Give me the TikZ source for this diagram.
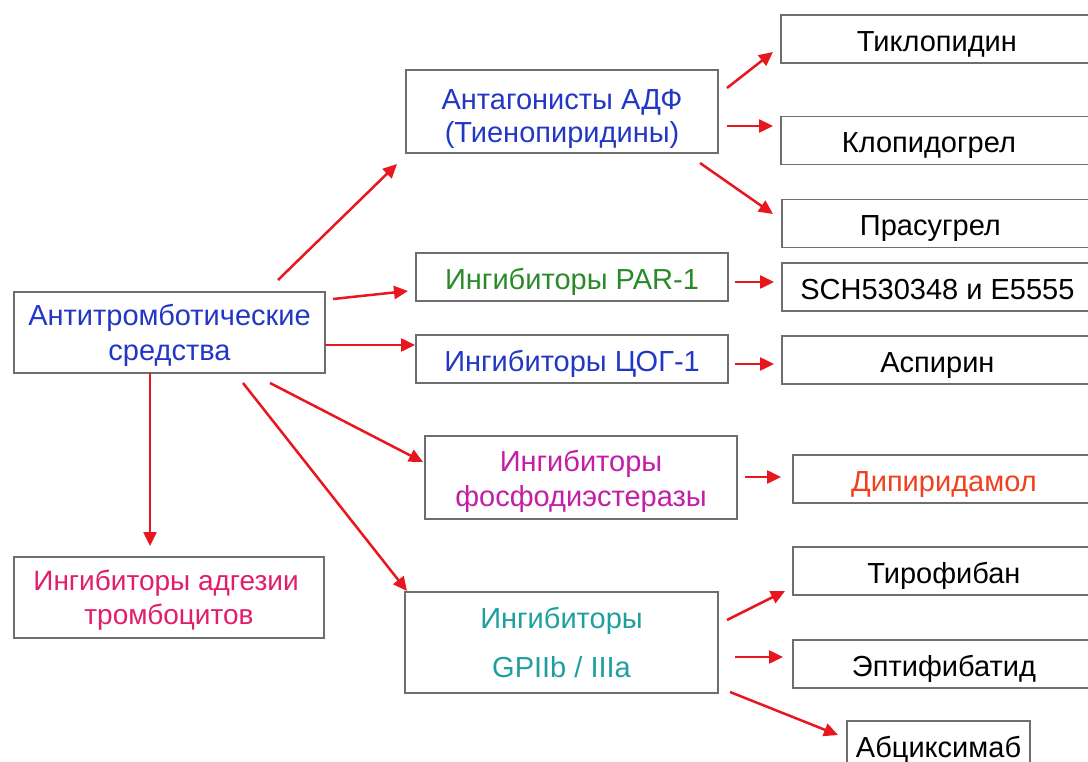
\documentclass[tikz,border=0pt]{standalone}
\usepackage{fontspec}
\setmainfont{Liberation Sans}
\usetikzlibrary{arrows.meta}
\definecolor{bordergray}{HTML}{6E6E6E}
\definecolor{arrred}{HTML}{E8161E}
\definecolor{tblue}{HTML}{2238C4}
\definecolor{tpink}{HTML}{E21E6A}
\definecolor{tgreen}{HTML}{2A8A2A}
\definecolor{tmagenta}{HTML}{C21FA6}
\definecolor{tteal}{HTML}{1FA0A0}
\definecolor{torange}{HTML}{F0401E}
\begin{document}
\begin{tikzpicture}[x=1pt,y=-1pt,
  box/.style={draw=bordergray, line width=1.8pt, inner sep=0pt, align=center,
    font=\fontsize{29}{35}\selectfont, text depth=0pt},
  one/.style={box, text height=25pt},
  rbox/.style={one, minimum height=48pt, anchor=west},
  arr/.style={draw=arrred, line width=2.5pt, -{Triangle[length=14pt,width=13pt]}}]
\useasboundingbox (0,0) rectangle (1088,762);
\fill[white] (0,0) rectangle (1088,762);
\clip (0,0) rectangle (1088,762);

% left column
\node[box, minimum width=311pt, minimum height=81pt, text=tblue, text height=56pt] (main) at (169.5,332.5)
  {Антитромботические\\средства};
\node[box, minimum width=310pt, minimum height=81pt, text=tpink, text height=54pt,
  font=\fontsize{28}{34}\selectfont] (adh) at (169,597.5)
  {Ингибиторы адгезии\hspace*{6pt}\\тромбоцитов};

% middle column
\node[box, minimum width=312pt, minimum height=83pt, text=tblue, text height=62pt,
  font=\fontsize{29}{33}\selectfont] (adf) at (562,111.5)
  {Антагонисты АДФ\\(Тиенопиридины)};
\node[one, minimum width=312pt, minimum height=48pt, text=tgreen] (par) at (572,277)
  {Ингибиторы PAR-1};
\node[one, minimum width=312pt, minimum height=48pt, text=tblue] (cog) at (572,359)
  {Ингибиторы ЦОГ-1};
\node[box, minimum width=312pt, minimum height=83pt, text=tmagenta, text height=58pt] (pde) at (581,477.5)
  {Ингибиторы\\фосфодиэстеразы};
\node[box, minimum width=313pt, minimum height=101pt, text=tteal, text height=69pt,
  font=\fontsize{29}{49}\selectfont] (gp) at (561.5,642.5)
  {Ингибиторы\\GPIIb / IIIa};

% right column
\node[rbox, minimum width=312pt] (tik) at (780,39) {Тиклопидин};
\node[rbox, minimum width=312pt] (klo) at (780,140.5) {Клопидогрел\hspace*{16pt}};
\node[rbox, minimum width=311pt] (pra) at (781,223.5) {Прасугрел\hspace*{14pt}};
\node[rbox, minimum width=311pt] (sch) at (781,287) {SCH530348 и E5555};
\node[rbox, minimum width=311pt] (asp) at (781,360) {Аспирин};
\node[rbox, minimum width=302pt, text=torange] (dip) at (792,479) {Дипиридамол};
\node[rbox, minimum width=302pt] (tir) at (792,571) {Тирофибан};
\node[rbox, minimum width=302pt] (ept) at (792,664) {Эптифибатид};
\node[one, minimum width=183pt, minimum height=48pt] (abc) at (938.5,745) {Абциксимаб};

% arrow end points
\coordinate (m1s) at (278,280);  \coordinate (m1e) at (397,164);
\coordinate (m2s) at (333,299);  \coordinate (m2e) at (408,291);
\coordinate (m3s) at (325,345);  \coordinate (m3e) at (415,345);
\coordinate (m4s) at (270,383);  \coordinate (m4e) at (423,462);
\coordinate (m5s) at (243,383);  \coordinate (m5e) at (407,591);
\coordinate (m6s) at (150,373);  \coordinate (m6e) at (150,546);
\coordinate (a1s) at (727,88);   \coordinate (a1e) at (773,52);
\coordinate (a2s) at (727,126);  \coordinate (a2e) at (773,126);
\coordinate (a3s) at (700,163);  \coordinate (a3e) at (773,214);
\coordinate (p1s) at (735,282);  \coordinate (p1e) at (774,282);
\coordinate (c1s) at (735,364);  \coordinate (c1e) at (774,364);
\coordinate (d1s) at (745,477);  \coordinate (d1e) at (781,477);
\coordinate (g1s) at (727,620);  \coordinate (g1e) at (785,591);
\coordinate (g2s) at (735,657);  \coordinate (g2e) at (783,657);
\coordinate (g3s) at (730,692);  \coordinate (g3e) at (838,735);

\draw[arr] (m1s) -- (m1e);
\draw[arr] (m2s) -- (m2e);
\draw[arr] (m3s) -- (m3e);
\draw[arr] (m4s) -- (m4e);
\draw[arr] (m5s) -- (m5e);
\draw[arr] (m6s) -- (m6e);
\draw[arr] (a1s) -- (a1e);
\draw[arr] (a2s) -- (a2e);
\draw[arr] (a3s) -- (a3e);
\draw[arr] (p1s) -- (p1e);
\draw[arr] (c1s) -- (c1e);
\draw[arr] (d1s) -- (d1e);
\draw[arr] (g1s) -- (g1e);
\draw[arr] (g2s) -- (g2e);
\draw[arr] (g3s) -- (g3e);
\end{tikzpicture}
\end{document}
